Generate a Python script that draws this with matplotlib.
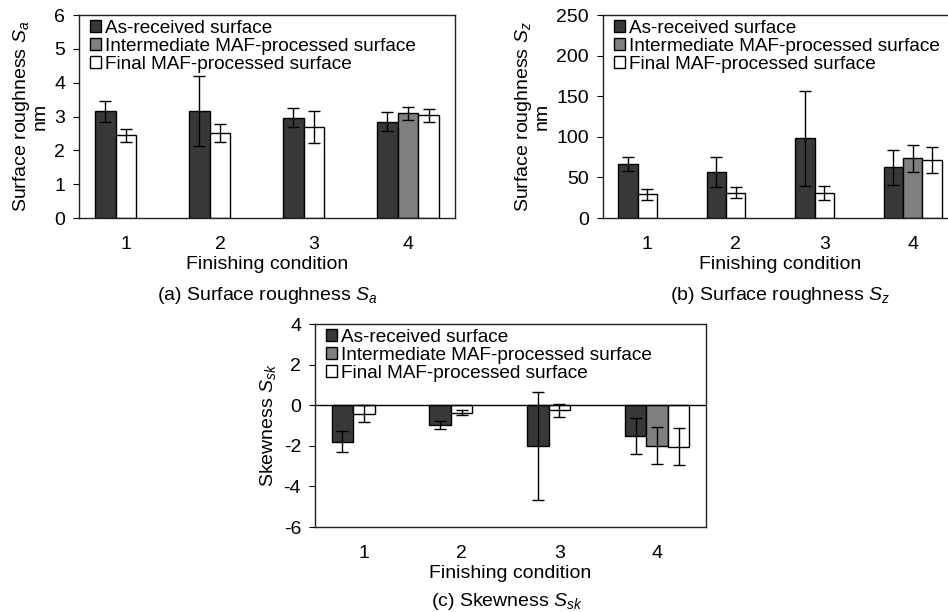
import numpy as np
import matplotlib.pyplot as plt
from matplotlib.transforms import offset_copy

plt.rcParams['font.family'] = ['Liberation Sans', 'DejaVu Sans']
plt.rcParams['mathtext.fontset'] = 'custom'
plt.rcParams['mathtext.it'] = 'Liberation Sans:italic'
plt.rcParams['mathtext.rm'] = 'Liberation Sans'

conditions = ['1', '2', '3', '4']
series = ['As-received surface', 'Intermediate MAF-processed surface', 'Final MAF-processed surface']

# Sa (nm)
sa_asr = [3.15, 3.17, 2.97, 2.85]
sa_asr_err = [0.30, 1.04, 0.29, 0.29]
sa_int = [np.nan, np.nan, np.nan, 3.09]
sa_int_err = [0, 0, 0, 0.19]
sa_fin = [2.44, 2.51, 2.69, 3.03]
sa_fin_err = [0.19, 0.26, 0.47, 0.19]

# Sz (nm)
sz_asr = [66.4, 56.6, 98.0, 62.3]
sz_asr_err = [8.4, 18.6, 58.6, 22.0]
sz_int = [np.nan, np.nan, np.nan, 73.4]
sz_int_err = [0, 0, 0, 17.0]
sz_fin = [29.1, 31.1, 30.7, 71.3]
sz_fin_err = [6.4, 7.0, 9.0, 15.8]

# Ssk
ssk_asr = [-1.79, -0.97, -2.03, -1.51]
ssk_asr_err = [0.52, 0.20, 2.66, 0.89]
ssk_int = [np.nan, np.nan, np.nan, -2.00]
ssk_int_err = [0, 0, 0, 0.91]
ssk_fin = [-0.41, -0.36, -0.26, -2.05]
ssk_fin_err = [0.41, 0.12, 0.31, 0.92]

colors = ['#383838', '#808080', '#ffffff']
W, H = 948, 612
fig = plt.figure(figsize=(W / 100, H / 100), dpi=100)
FS = 14


def px_axes(x0, y0, x1, y1):
    return fig.add_axes([x0 / W, 1 - y1 / H, (x1 - x0) / W, (y1 - y0) / H])


def draw(ax, asr, asr_e, inter, inter_e, fin, fin_e, ylim, yticks):
    x = np.arange(len(conditions))
    w = 0.22
    inter = np.array(inter, dtype=float)
    has_int = ~np.isnan(inter)
    # final bar takes the middle slot when there is no intermediate bar
    fin_off = np.where(has_int, w, 0.0)
    ek = dict(ecolor='black', elinewidth=1, capsize=4, capthick=1)
    ax.bar(x - w, asr, w, yerr=asr_e, color=colors[0], edgecolor='black', lw=1,
           label=series[0], error_kw=ek, zorder=2)
    ax.bar(x[has_int], inter[has_int], w, yerr=np.array(inter_e)[has_int], color=colors[1],
           edgecolor='black', lw=1, label=series[1], error_kw=ek, zorder=2)
    ax.bar(x + fin_off, fin, w, yerr=fin_e, color=colors[2], edgecolor='black', lw=1,
           label=series[2], error_kw=ek, zorder=2)
    ax.set_xlim(-0.5, len(conditions) - 0.5)
    ax.set_ylim(*ylim)
    ax.set_yticks(yticks)
    ax.set_yticklabels([str(t) for t in yticks])
    ax.set_xticks(x)
    ax.set_xticklabels(conditions)
    ax.tick_params(axis='x', length=0, pad=13, labelsize=FS)
    ax.tick_params(axis='y', direction='out', length=4, width=0.8, pad=6, labelsize=FS)
    for s in ax.spines.values():
        s.set_linewidth(1)
        s.set_color('#222222')
    ax.set_xlabel('Finishing condition', fontsize=FS, labelpad=2)
    ax.legend(loc='upper left', bbox_to_anchor=(0, 1),
              bbox_transform=offset_copy(ax.transAxes, fig=fig, x=11, y=-5, units='dots'),
              frameon=False, fontsize=13.7, handlelength=0.6,
              handleheight=0.6, handletextpad=0.2, labelspacing=0.05,
              borderaxespad=0, borderpad=0)


ax1 = px_axes(79, 15, 455, 218)
draw(ax1, sa_asr, sa_asr_err, sa_int, sa_int_err, sa_fin, sa_fin_err, (0, 6), [0, 1, 2, 3, 4, 5, 6])
ax1.set_ylabel('Surface roughness $S_a$\nnm', fontsize=FS, labelpad=4, linespacing=1.0)
fig.text(267, H - 295, '(a) Surface roughness $S_a$', fontsize=FS, ha='center', va='center',
         transform=None)

ax2 = px_axes(603, 15, 957, 218)
draw(ax2, sz_asr, sz_asr_err, sz_int, sz_int_err, sz_fin, sz_fin_err, (0, 250), [0, 50, 100, 150, 200, 250])
ax2.set_ylabel('Surface roughness $S_z$\nnm', fontsize=FS, labelpad=4, linespacing=1.0)
fig.text(780, H - 295, '(b) Surface roughness $S_z$', fontsize=FS, ha='center', va='center',
         transform=None)

ax3 = px_axes(315, 324, 706, 527)
draw(ax3, ssk_asr, ssk_asr_err, ssk_int, ssk_int_err, ssk_fin, ssk_fin_err, (-6, 4), [-6, -4, -2, 0, 2, 4])
ax3.axhline(0, color='black', lw=1, zorder=3)
ax3.set_ylabel('Skewness $S_{sk}$', fontsize=FS, labelpad=4)
fig.text(507, H - 601, '(c) Skewness $S_{sk}$', fontsize=FS, ha='center', va='center',
         transform=None)

fig.savefig('out.png', dpi=100)
